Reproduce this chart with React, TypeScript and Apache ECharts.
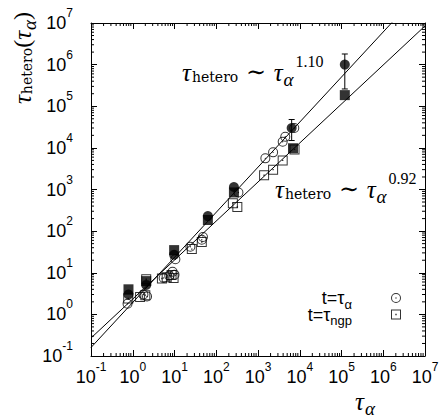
import React, { useEffect, useRef } from "react";
import * as echarts from "echarts";

// ---- data ----
const openCircles: number[][] = [
  [0.75, 1.8], [1.8, 3.0], [2.2, 2.7], [5.5, 7.5], [7.5, 8.5], [9.0, 10.5], [10.0, 9.0],
  [10.5, 21], [24, 42], [45, 62], [48, 72], [340, 850], [1500, 5600], [2300, 7800],
  [3900, 14000], [4500, 18500], [7400, 30000],
];
const openSquares: number[][] = [
  [0.78, 2.4], [1.5, 2.6], [2.0, 2.9], [2.1, 7.0], [5.0, 7.3], [6.5, 7.8], [8.5, 8.8],
  [9.5, 7.5], [26, 37], [45, 55], [250, 470], [320, 380], [1400, 2200], [2300, 3000],
  [3900, 5000], [7500, 9200],
];
const filledSquares: number[][] = [
  [0.79, 4.0], [2.1, 6.3], [9.8, 35], [63, 185], [265, 850], [6900, 9800], [1.2e5, 1.85e5],
];
const filledCircles: number[][] = [
  [0.79, 3.0], [2.1, 5.1], [9.8, 27], [63, 230], [265, 1150], [6400, 30000], [1.2e5, 1.0e6],
];
// [x, low, high]
const errorBars: number[][] = [
  [6400, 15000, 48000],
  [1.2e5, 2.6e5, 1.8e6],
];
// fit lines (endpoints)
const fitSteep: number[][] = [[0.1, 0.16], [1e7, 7.4e7]];
const fitShallow: number[][] = [[0.1, 0.27], [1e7, 8.5e6]];

const axisMin = 0.1;
const axisMax = 1e7;
const decadeExps = [-1, 0, 1, 2, 3, 4, 5, 6];
const minorTicks: number[][] = [];
decadeExps.forEach((e) => {
  for (let m = 2; m <= 9; m++) minorTicks.push([m * Math.pow(10, e)]);
});

const circleSym =
  "path://M50 0A50 50 0 1 1 50 100A50 50 0 1 1 50 0ZM50 10A40 40 0 1 0 50 90A40 40 0 1 0 50 10ZM50 43A7 7 0 1 1 50 57A7 7 0 1 1 50 43Z";
const squareSym = "path://M0 0H100V100H0ZM10 10V90H90V10ZM43 43H57V57H43Z";

const labelFormatter = (v: number) => {
  const e = Math.round(Math.log10(v));
  return "{b|10}{s|" + e + "}";
};
const labelRich = {
  b: { fontFamily: "Liberation Sans", fontSize: 18, color: "#000", verticalAlign: "middle" },
  s: { fontFamily: "Liberation Sans", fontSize: 12, color: "#000", verticalAlign: "middle", padding: [0, 0, 20, 0] },
};

const serif = "DejaVu Serif";
const tauFont = "Liberation Serif";
const annRich = {
  t: { fontFamily: tauFont, fontStyle: "italic", fontSize: 25, verticalAlign: "middle", color: "#000" },
  h: { fontFamily: serif, fontSize: 14, verticalAlign: "middle", padding: [9, 0, 0, 1], color: "#000" },
  w: { fontFamily: serif, fontSize: 24, verticalAlign: "middle", color: "#000" },
  a: { fontFamily: tauFont, fontStyle: "italic", fontSize: 19, verticalAlign: "middle", padding: [14, 0, 0, 1], color: "#000" },
  p: { fontFamily: "Liberation Serif", fontSize: 16, verticalAlign: "middle", padding: [0, 0, 22, 2], color: "#000" },
  b: { fontFamily: tauFont, fontSize: 24, verticalAlign: "middle", color: "#000" },
};

export default function App() {
  const ref = useRef<HTMLDivElement>(null);
  useEffect(() => {
    if (!ref.current) return;
    const chart = echarts.init(ref.current, null, { renderer: "svg" });
    const axisCommon = {
      type: "log",
      logBase: 10,
      min: axisMin,
      max: axisMax,
      splitNumber: 8,
      axisLine: { show: true, onZero: false, lineStyle: { color: "#000", width: 1 } },
      axisTick: { show: true, inside: true, length: 6, lineStyle: { color: "#000", width: 1 } },
      splitLine: { show: false },
      minorTick: { show: false },
    };
    const option: any = {
      animation: false,
      backgroundColor: "#fff",
      grid: { left: 91, top: 23, right: 18, bottom: 63, containLabel: false },
      xAxis: [
        {
          ...axisCommon,
          position: "bottom",
          axisLabel: { formatter: labelFormatter, rich: labelRich, margin: 5 },
        },
        { ...axisCommon, position: "top", axisLabel: { show: false } },
      ],
      yAxis: [
        {
          ...axisCommon,
          position: "left",
          axisLabel: { formatter: labelFormatter, rich: labelRich, margin: 18 },
        },
        { ...axisCommon, position: "right", axisLabel: { show: false } },
      ],
      legend: {
        orient: "vertical",
        right: 37,
        top: 284,
        align: "right",
        itemWidth: 10,
        itemHeight: 10,
        itemGap: -5,
        selectedMode: false,
        data: [
          { name: "tauAlpha", icon: circleSym },
          { name: "tauNgp", icon: squareSym },
        ],
        formatter: (n: string) => (n === "tauAlpha" ? "{m|t=τ}{s|α}" : "{m|t=τ}{s|ngp}"),
        textStyle: {
          padding: [0, 34, 0, 0],
          rich: {
            m: { fontFamily: "Liberation Sans", fontSize: 18, verticalAlign: "middle", color: "#000" },
            s: { fontFamily: "Liberation Sans", fontSize: 13, verticalAlign: "middle", padding: [12, 0, 0, 0], color: "#000" },
          },
        },
      },
      graphic: [
        {
          type: "text",
          x: 182,
          y: 72,
          style: {
            text: "{t|τ}{h|hetero}{w| ∼ }{t|τ}{a|α}{p|1.10}",
            rich: annRich,
            align: "left",
            verticalAlign: "middle",
          },
        },
        {
          type: "text",
          x: 275,
          y: 189,
          style: {
            text: "{t|τ}{h|hetero}{w| ∼ }{t|τ}{a|α}{p|0.92}",
            rich: annRich,
            align: "left",
            verticalAlign: "middle",
          },
        },
        {
          type: "text",
          x: 22,
          y: 58,
          rotation: Math.PI / 2,
          style: {
            text: "{t|τ}{h|hetero}{b|(}{t|τ}{a|α}{b|)}",
            rich: annRich,
            align: "center",
            verticalAlign: "middle",
          },
        },
        {
          type: "text",
          x: 365,
          y: 401,
          style: {
            text: "{t|τ}{a|α}",
            rich: annRich,
            align: "center",
            verticalAlign: "middle",
          },
        },
      ],
      series: [
        {
          name: "minorTicks",
          type: "custom",
          silent: true,
          clip: false,
          data: minorTicks,
          encode: { x: 0 },
          renderItem: (params: any, api: any) => {
            const cs = params.coordSys;
            const v = api.value(0);
            const px = api.coord([v, 1])[0];
            const py = api.coord([1, v])[1];
            const st = { stroke: "#000", lineWidth: 1 };
            const L = 3;
            return {
              type: "group",
              children: [
                { type: "line", shape: { x1: px, y1: cs.y + cs.height, x2: px, y2: cs.y + cs.height - L }, style: st },
                { type: "line", shape: { x1: px, y1: cs.y, x2: px, y2: cs.y + L }, style: st },
                { type: "line", shape: { x1: cs.x, y1: py, x2: cs.x + L, y2: py }, style: st },
                { type: "line", shape: { x1: cs.x + cs.width, y1: py, x2: cs.x + cs.width - L, y2: py }, style: st },
              ],
            };
          },
        },
        {
          name: "fitSteep",
          type: "line",
          data: fitSteep,
          symbol: "none",
          clip: true,
          lineStyle: { color: "#000", width: 1 },
        },
        {
          name: "fitShallow",
          type: "line",
          data: fitShallow,
          symbol: "none",
          clip: true,
          lineStyle: { color: "#000", width: 1 },
        },
        {
          name: "tauNgp",
          type: "scatter",
          data: openSquares,
          symbol: squareSym,
          symbolSize: 10,
          symbolKeepAspect: true,
          itemStyle: { color: "#000" },
        },
        {
          name: "tauAlpha",
          type: "scatter",
          data: openCircles,
          symbol: circleSym,
          symbolSize: 10,
          symbolKeepAspect: true,
          itemStyle: { color: "#000" },
        },
        {
          name: "errorBars",
          type: "custom",
          data: errorBars,
          encode: { x: 0, y: [1, 2] },
          renderItem: (params: any, api: any) => {
            const x = api.value(0);
            const lo = api.coord([x, api.value(1)]);
            const hi = api.coord([x, api.value(2)]);
            const st = { stroke: "#000", lineWidth: 1 };
            const c = 3;
            return {
              type: "group",
              children: [
                { type: "line", shape: { x1: lo[0], y1: lo[1], x2: hi[0], y2: hi[1] }, style: st },
                { type: "line", shape: { x1: hi[0] - c, y1: hi[1], x2: hi[0] + c, y2: hi[1] }, style: st },
                { type: "line", shape: { x1: lo[0] - c, y1: lo[1], x2: lo[0] + c, y2: lo[1] }, style: st },
              ],
            };
          },
        },
        {
          name: "filledSquares",
          type: "scatter",
          data: filledSquares,
          symbol: "rect",
          symbolSize: 10,
          itemStyle: { color: "#000" },
        },
        {
          name: "filledCircles",
          type: "scatter",
          data: filledCircles,
          symbol: "circle",
          symbolSize: 10,
          itemStyle: { color: "#000" },
        },
      ],
    };
    chart.setOption(option);
    return () => chart.dispose();
  }, []);
  return (
    <div
      ref={ref}
      style={{ position: "fixed", left: 0, top: 0, width: 443, height: 419, background: "#fff" }}
    />
  );
}
